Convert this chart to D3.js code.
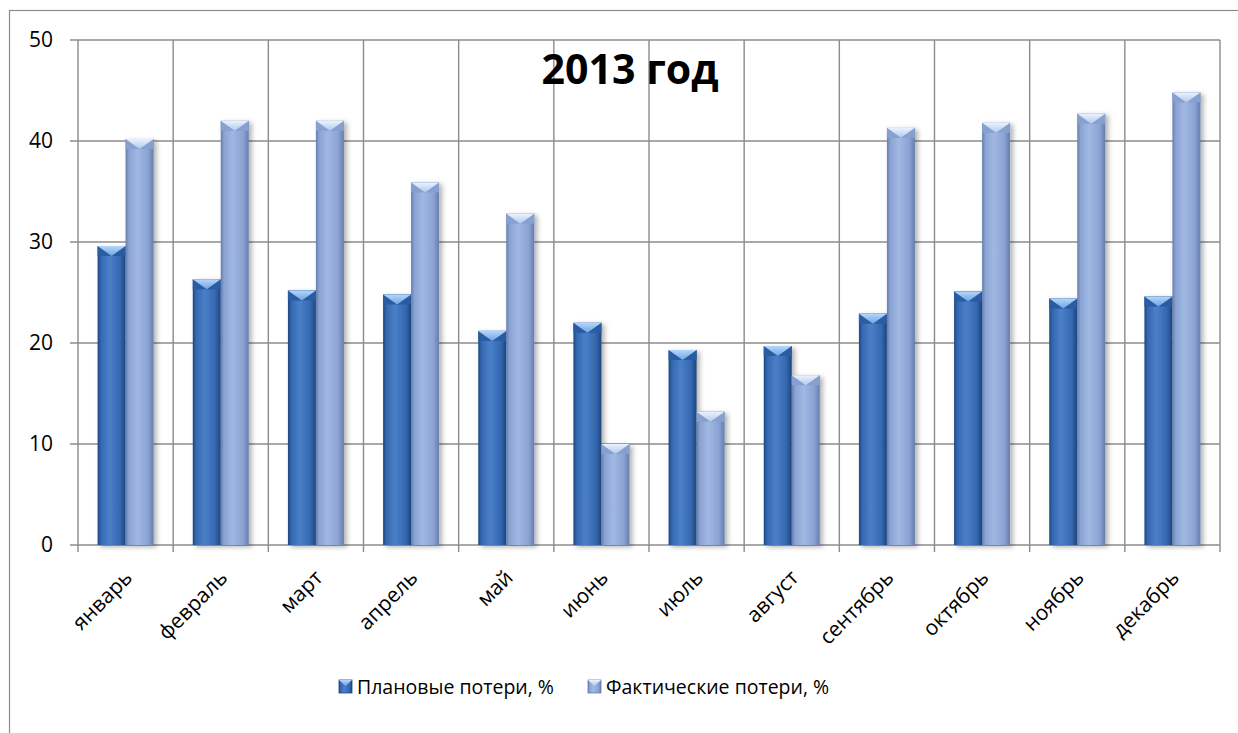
<!DOCTYPE html>
<html>
<head>
<meta charset="utf-8">
<script src="https://cdn.jsdelivr.net/npm/d3@7"></script>
<style>
  html, body { margin: 0; padding: 0; background: #fff; }
  svg { display: block; font-family: "Open Sans", "Noto Sans", sans-serif; }
</style>
</head>
<body>
<svg id="chart" width="1238" height="733"></svg>
<script>
// Monthly loss data, 2013
const months = ["январь", "февраль", "март", "апрель", "май", "июнь",
                "июль", "август", "сентябрь", "октябрь", "ноябрь", "декабрь"];
const planned = [29.6, 26.3, 25.2, 24.8, 21.2, 22.0, 19.3, 19.7, 22.9, 25.1, 24.4, 24.6];
const actual  = [40.2, 42.0, 42.0, 35.9, 32.8, 10.0, 13.2, 16.8, 41.3, 41.8, 42.7, 44.8];
const seriesNames = ["Плановые потери, %", "Фактические потери, %"];
const yTicks = [0, 10, 20, 30, 40, 50];
const chartTitle = "2013 год";

const svg = d3.select("#chart");
const margin = { left: 78, top: 40, right: 1220, bottom: 545 };

const x = d3.scaleBand().domain(months).range([margin.left, margin.right]);
const inner = d3.scaleBand().domain([0, 1]).range([0, x.bandwidth()]).paddingOuter(0.7).paddingInner(0);
const y = d3.scaleLinear().domain([0, 50]).range([margin.bottom, margin.top]);

// Gradients for the bevelled bars
const defs = svg.append("defs");
const palettes = [
  { edge: "#1c4680", mid: "#3568b0", light: "#4a80c8", topA: "#b4d6fb", topB: "#6fa2e4", side: "#2a5ca3" },
  { edge: "#667dae", mid: "#8aa3d3", light: "#a0b8e2", topA: "#eaf2fe", topB: "#b3c9ec", side: "#86a0d0" }
];
palettes.forEach((p, i) => {
  const g = defs.append("linearGradient").attr("id", "body" + i).attr("x1", 0).attr("x2", 1).attr("y1", 0).attr("y2", 0);
  g.append("stop").attr("offset", "0%").attr("stop-color", p.edge);
  g.append("stop").attr("offset", "12%").attr("stop-color", p.mid);
  g.append("stop").attr("offset", "42%").attr("stop-color", p.light);
  g.append("stop").attr("offset", "80%").attr("stop-color", p.mid);
  g.append("stop").attr("offset", "100%").attr("stop-color", p.edge);
  const t = defs.append("linearGradient").attr("id", "top" + i).attr("x1", 0).attr("x2", 0).attr("y1", 0).attr("y2", 1);
  t.append("stop").attr("offset", "0%").attr("stop-color", p.topA);
  t.append("stop").attr("offset", "100%").attr("stop-color", p.topB);
});
const shadow = defs.append("filter").attr("id", "shadow").attr("x", "-20%").attr("y", "-5%").attr("width", "160%").attr("height", "115%");
shadow.append("feDropShadow").attr("dx", 3).attr("dy", 2).attr("stdDeviation", 2.5)
  .attr("flood-color", "#000").attr("flood-opacity", 0.3);

// Outer chart border
svg.append("rect").attr("x", 9.5).attr("y", 10.5).attr("width", 1240).attr("height", 740)
  .attr("fill", "none").attr("stroke", "#8c8c8c").attr("stroke-width", 1.2);

// Horizontal gridlines with left tick marks
const gridColor = "#8c8c8c";
svg.append("g").selectAll("line").data(yTicks).join("line")
  .attr("x1", margin.left - 8).attr("x2", margin.right)
  .attr("y1", d => y(d)).attr("y2", d => y(d))
  .attr("stroke", gridColor).attr("stroke-width", 1.4);

// Vertical gridlines at category boundaries, extended below as tick marks
const bounds = months.map(m => x(m)).concat([margin.right]);
svg.append("g").selectAll("line").data(bounds).join("line")
  .attr("x1", d => d).attr("x2", d => d)
  .attr("y1", margin.top).attr("y2", margin.bottom + 7)
  .attr("stroke", gridColor).attr("stroke-width", 1.4);

// Y tick labels
svg.append("g").selectAll("text").data(yTicks).join("text")
  .attr("x", 53).attr("y", d => y(d)).attr("dy", "0.35em")
  .attr("text-anchor", "end").attr("font-size", 21).attr("fill", "#000")
  .text(d => d);

// Bars
const bevel = 10;
[planned, actual].forEach((vals, si) => {
  const g = svg.append("g");
  const bars = g.selectAll("g").data(months.map((m, i) => ({ m, v: vals[i] }))).join("g")
    .attr("filter", "url(#shadow)");
  const w = inner.bandwidth();
  bars.append("rect")
    .attr("x", d => x(d.m) + inner(si)).attr("y", d => y(d.v))
    .attr("width", w).attr("height", d => y(0) - y(d.v))
    .attr("fill", `url(#body${si})`);
  // top bevel: darker corners with a lighter downward wedge
  bars.append("rect")
    .attr("x", d => x(d.m) + inner(si)).attr("y", d => y(d.v))
    .attr("width", w).attr("height", bevel)
    .attr("fill", palettes[si].side);
  bars.append("path")
    .attr("d", d => {
      const x0 = x(d.m) + inner(si), y0 = y(d.v);
      return `M${x0},${y0}L${x0 + w},${y0}L${x0 + w * 0.5},${y0 + bevel}Z`;
    })
    .attr("fill", `url(#top${si})`);
});

// Category labels, rotated
svg.append("g").selectAll("text").data(months).join("text")
  .attr("transform", d => `translate(${x(d) + x.bandwidth() / 2 + 8},${margin.bottom + 34}) rotate(-45)`)
  .attr("text-anchor", "end").attr("font-size", 21).attr("fill", "#000")
  .text(d => d);

// Title
svg.append("text").attr("x", 630).attr("y", 84).attr("text-anchor", "middle")
  .attr("font-size", 41).attr("font-weight", "bold").attr("fill", "#000")
  .attr("textLength", 177).attr("lengthAdjust", "spacingAndGlyphs")
  .text(chartTitle);

// Legend
const legendX = [339, 588];
const legend = svg.append("g").selectAll("g").data(seriesNames).join("g")
  .attr("transform", (d, i) => `translate(${legendX[i]},687)`);
legend.append("rect").attr("x", 0).attr("y", -7).attr("width", 13).attr("height", 13)
  .attr("fill", (d, i) => `url(#body${i})`).attr("stroke", (d, i) => palettes[i].edge).attr("stroke-width", 0.8);
legend.append("path").attr("d", "M0,-7L13,-7L6.5,-1Z").attr("fill", (d, i) => `url(#top${i})`);
legend.append("text").attr("x", 18).attr("y", 0).attr("dy", "0.35em")
  .attr("font-size", 19.5).attr("fill", "#000").text(d => d);
</script>
</body>
</html>
